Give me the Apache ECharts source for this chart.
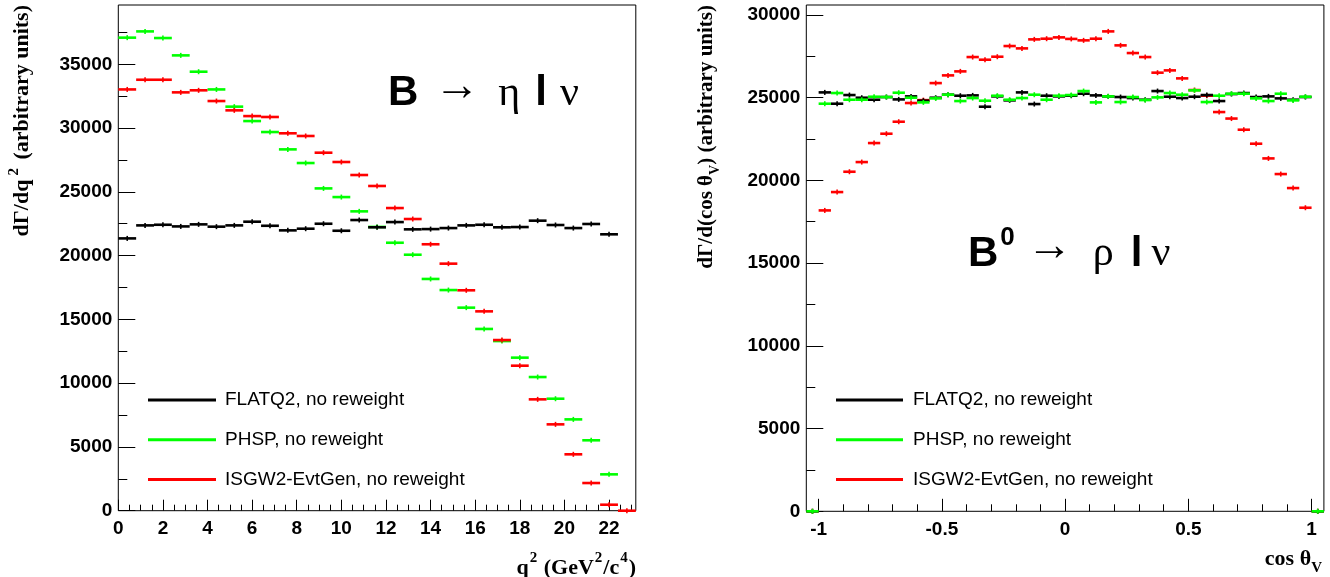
<!DOCTYPE html>
<html>
<head>
<meta charset="utf-8">
<script src="https://cdn.jsdelivr.net/npm/echarts@6/dist/echarts.min.js"></script>
<style>
html,body{margin:0;padding:0;background:#fff;}
#chart{width:1330px;height:577px;}
</style>
</head>
<body>
<div id="chart"></div>
<script>
// ---------------- Left panel: B -> eta l nu, dGamma/dq^2 ----------------
// 29 bins of 0.8 GeV^2/c^4 starting at q^2 = 0
const qBinStart = 0;
const qBinWidth = 0.8;
const qFlat  = [21350, 22370, 22420, 22290, 22450, 22270, 22370, 22660, 22340, 21980,
                22110, 22500, 21950, 22790, 22220, 22630, 22060, 22080, 22160, 22370,
                22420, 22220, 22240, 22740, 22400, 22160, 22480, 21670, null];
const qPhsp  = [37090, 37580, 37060, 35700, 34420, 33030, 31680, 30550, 29690, 28330,
                27260, 25270, 24590, 23470, 22250, 21010, 20070, 18170, 17300, 15920,
                14250, 13300, 12000, 10480, 8780, 7160, 5520, 2850, null];
const qIsgw2 = [33030, 33790, 33790, 32800, 32960, 32120, 31390, 30940, 30870, 29590,
                29380, 28070, 27340, 26320, 25460, 23730, 22870, 20890, 19370, 17280,
                15630, 13380, 11370, 8730, 6770, 4420, 2170, 470, 0];
const qTicks      = [0, 2, 4, 6, 8, 10, 12, 14, 16, 18, 20, 22];
const qMinorTicks = [0.5, 1, 1.5, 2.5, 3, 3.5, 4.5, 5, 5.5, 6.5, 7, 7.5, 8.5, 9, 9.5,
                     10.5, 11, 11.5, 12.5, 13, 13.5, 14.5, 15, 15.5, 16.5, 17, 17.5,
                     18.5, 19, 19.5, 20.5, 21, 21.5, 22.5, 23];
const yLeftTicks      = [0, 5000, 10000, 15000, 20000, 25000, 30000, 35000];
const yLeftMinorTicks = [2500, 7500, 12500, 17500, 22500, 27500, 32500, 37500];

// ---------------- Right panel: B0 -> rho l nu, dGamma/d(cos theta_V) ----------------
// 42 bins of 0.05 starting at cos theta_V = -1.05 (first and last bins are empty)
const cBinStart = -1.05;
const cBinWidth = 0.05;
const cFlat  = [0,
                25318, 24634, 25158, 24996, 24875, 25037, 24895, 25077, 24815, 24996,
                25178, 25117, 25137, 24452, 25077, 24835, 25318, 24613, 25117, 25077,
                25117, 25238, 25137, 25077, 25037, 24976, 24875, 25399, 25057, 24976,
                25057, 25158, 24795, 25218, 25279, 25037, 25077, 24956, 24875, 25037,
                0];
const cPhsp  = [0,
                24634, 25279, 24875, 24875, 25057, 25037, 25298, 24996, 24714, 24956,
                25178, 24795, 24976, 24815, 25117, 24875, 24976, 25178, 24875, 25117,
                25158, 25399, 24714, 25077, 24735, 25037, 24855, 25016, 25279, 25178,
                25440, 24735, 25117, 25238, 25238, 24956, 24795, 25238, 24835, 25057,
                0];
const cIsgw2 = [0,
                18185, 19294, 20523, 21107, 22256, 22820, 23545, 24676, 24850, 25880,
                26346, 26588, 27454, 27293, 27474, 28120, 27978, 28522, 28563, 28643,
                28550, 28463, 28563, 29005, 28160, 27696, 27454, 26510, 26648, 26165,
                25460, 25117, 24130, 23737, 23062, 22216, 21328, 20382, 19536, 18347,
                0];
const cTicks      = [-1, -0.5, 0, 0.5, 1];
const cMinorTicks = [-0.9, -0.8, -0.7, -0.6, -0.4, -0.3, -0.2, -0.1,
                     0.1, 0.2, 0.3, 0.4, 0.6, 0.7, 0.8, 0.9];
const yRightTicks      = [0, 5000, 10000, 15000, 20000, 25000, 30000];
const yRightMinorTicks = [2500, 7500, 12500, 17500, 22500, 27500];

const seriesNames = ['FLATQ2, no reweight', 'PHSP, no reweight', 'ISGW2-EvtGen, no reweight'];
const colFlat = '#000000', colPhsp = '#00ff00', colIsgw2 = '#ff0000';

// ------------------------------------------------------------------
function histData(values, start, width) {
  const out = [];
  values.forEach(function (v, i) {
    if (v === null) return;
    out.push([start + i * width, start + (i + 1) * width, v]);
  });
  return out;
}

function renderBin(params, api) {
  const a = api.coord([api.value(0), api.value(2)]);
  const b = api.coord([api.value(1), api.value(2)]);
  const color = api.visual('color');
  const mx = (a[0] + b[0]) / 2;
  return {
    type: 'group',
    children: [
      { type: 'line', shape: { x1: a[0], y1: a[1], x2: b[0], y2: b[1] },
        style: { stroke: color, lineWidth: 2.6 } },
      { type: 'line', shape: { x1: mx, y1: a[1] - 2.5, x2: mx, y2: a[1] + 2.5 },
        style: { stroke: color, lineWidth: 1.6 } }
    ]
  };
}

function histSeries(name, values, start, width, color, gi) {
  return {
    name: name,
    type: 'custom',
    xAxisIndex: gi * 2,
    yAxisIndex: gi * 2,
    clip: false,
    renderItem: renderBin,
    itemStyle: { color: color },
    encode: { x: [0, 1], y: 2 },
    data: histData(values, start, width)
  };
}

const tickFont = { fontFamily: 'Liberation Sans', fontWeight: 'bold', fontSize: 19, color: '#000' };
function plainNum(v) { return String(v); }

function xAxes(gi, min, max, major, minor, majLen, minLen) {
  return [
    { gridIndex: gi, type: 'value', position: 'bottom', min: min, max: max,
      axisLine: { show: false, onZero: false }, splitLine: { show: false },
      axisTick: { inside: true, length: majLen, customValues: major, lineStyle: { color: '#000', width: 1 } },
      axisLabel: Object.assign({ customValues: major, margin: 9, formatter: plainNum }, tickFont) },
    { gridIndex: gi, type: 'value', position: 'bottom', min: min, max: max,
      axisLine: { show: false, onZero: false }, splitLine: { show: false },
      axisTick: { inside: true, length: minLen, customValues: minor, lineStyle: { color: '#000', width: 1 } },
      axisLabel: { show: false, customValues: minor } }
  ];
}
function yAxes(gi, max, major, minor) {
  return [
    { gridIndex: gi, type: 'value', position: 'left', min: 0, max: max,
      axisLine: { show: false, onZero: false }, splitLine: { show: false },
      axisTick: { inside: true, length: 17, customValues: major, lineStyle: { color: '#000', width: 1 } },
      axisLabel: Object.assign({ customValues: major, margin: 6, formatter: plainNum }, tickFont) },
    { gridIndex: gi, type: 'value', position: 'left', min: 0, max: max,
      axisLine: { show: false, onZero: false }, splitLine: { show: false },
      axisTick: { inside: true, length: 9, customValues: minor, lineStyle: { color: '#000', width: 1 } },
      axisLabel: { show: false, customValues: minor } }
  ];
}

const serifBold = { fontFamily: 'Liberation Serif', fontWeight: 'bold', fill: '#000' };

function legendFor(left, iconW, pad) {
  return {
    left: left, top: 390, orient: 'vertical', padding: 0,
    icon: 'rect', itemWidth: iconW, itemHeight: 3, itemGap: 19.7,
    selectedMode: false,
    data: seriesNames,
    textStyle: { fontFamily: 'Liberation Sans', fontSize: 19, color: '#000', lineHeight: 20, padding: [0, 0, 0, pad] }
  };
}

const arrowStyle = { fontFamily: 'Liberation Serif', fontSize: 46, lineHeight: 36, verticalAlign: 'top', fill: '#000' };
const greekStyle = { fontFamily: 'Liberation Serif', fontSize: 42, lineHeight: 50, verticalAlign: 'bottom', fill: '#000' };
const boldBig    = { fontFamily: 'Liberation Sans', fontWeight: 'bold', fontSize: 42, lineHeight: 50, verticalAlign: 'bottom', fill: '#000' };

const option = {
  animation: false,
  backgroundColor: '#fff',
  textStyle: { fontFamily: 'Liberation Sans' },
  grid: [
    { left: 118.3, top: 5, width: 517.5, height: 505.7, show: true, borderColor: '#000', borderWidth: 1,
      backgroundColor: 'transparent', outerBoundsMode: 'none', containLabel: false },
    { left: 806.3, top: 5, width: 517.6, height: 506.3, show: true, borderColor: '#000', borderWidth: 1,
      backgroundColor: 'transparent', outerBoundsMode: 'none', containLabel: false }
  ],
  xAxis: [].concat(
    xAxes(0, 0, 23.2, qTicks, qMinorTicks, 11, 6),
    xAxes(1, -1.05, 1.05, cTicks, cMinorTicks, 12.5, 7)
  ),
  yAxis: [].concat(
    yAxes(0, 39650, yLeftTicks, yLeftMinorTicks),
    yAxes(1, 30600, yRightTicks, yRightMinorTicks)
  ),
  legend: [legendFor(148, 68, 4), legendFor(836, 67, 5)],
  series: [
    histSeries(seriesNames[1], qPhsp, qBinStart, qBinWidth, colPhsp, 0),
    histSeries(seriesNames[2], qIsgw2, qBinStart, qBinWidth, colIsgw2, 0),
    histSeries(seriesNames[0], qFlat, qBinStart, qBinWidth, colFlat, 0),
    histSeries(seriesNames[2], cIsgw2, cBinStart, cBinWidth, colIsgw2, 1),
    histSeries(seriesNames[0], cFlat, cBinStart, cBinWidth, colFlat, 1),
    histSeries(seriesNames[1], cPhsp, cBinStart, cBinWidth, colPhsp, 1)
  ],
  graphic: [
    // y-axis titles
    { type: 'text', x: 20, y: 5, rotation: Math.PI / 2, silent: true,
      style: { text: '{m|dΓ/dq}{s|2}{m| (arbitrary units)}', align: 'right', verticalAlign: 'middle',
        rich: { m: Object.assign({ fontSize: 22, lineHeight: 27, verticalAlign: 'bottom' }, serifBold),
                s: Object.assign({ fontSize: 15, lineHeight: 15, verticalAlign: 'top', padding: [0, 3, 0, 4] }, serifBold) } } },
    { type: 'text', x: 709, y: 5, rotation: Math.PI / 2, silent: true,
      style: { text: '{m|dΓ/d(cos θ}{b|V}{m|) (arbitrary units)}', align: 'right', verticalAlign: 'middle',
        rich: { m: Object.assign({ fontSize: 21, lineHeight: 26, verticalAlign: 'top' }, serifBold),
                b: Object.assign({ fontSize: 14, lineHeight: 14, verticalAlign: 'bottom' }, serifBold) } } },
    // x-axis titles
    { type: 'text', x: 636, y: 565, silent: true,
      style: { text: '{m|q}{s|2}{m| (GeV}{s|2}{m|/c}{s|4}{m|)}', align: 'right', verticalAlign: 'middle',
        rich: { m: Object.assign({ fontSize: 22, lineHeight: 29, verticalAlign: 'bottom' }, serifBold),
                s: Object.assign({ fontSize: 15, lineHeight: 15, verticalAlign: 'top', padding: [0, 1, 0, 1] }, serifBold) } } },
    { type: 'text', x: 1322, y: 562, silent: true,
      style: { text: '{m|cos θ}{b|V}', align: 'right', verticalAlign: 'middle',
        rich: { m: Object.assign({ fontSize: 22, lineHeight: 28, verticalAlign: 'top' }, serifBold),
                b: Object.assign({ fontSize: 15, lineHeight: 15, verticalAlign: 'bottom' }, serifBold) } } },
    // decay labels
    { type: 'text', x: 388, y: 64.7, silent: true,
      style: { text: '{b|B}{a|→}{g|η}{l|l}{n|ν}', align: 'left', verticalAlign: 'top',
        rich: {
          b: boldBig,
          a: Object.assign({ padding: [0, 0, 0, 16] }, arrowStyle),
          g: Object.assign({ padding: [0, 0, 0, 18] }, greekStyle),
          l: Object.assign({ padding: [0, 0, 0, 15] }, boldBig),
          n: Object.assign({ padding: [0, 0, 0, 13] }, greekStyle)
        } } },
    { type: 'text', x: 968, y: 225, silent: true,
      style: { text: '{b|B}{z|0}{a|→}{g|ρ}{l|l}{n|ν}', align: 'left', verticalAlign: 'top',
        rich: {
          b: boldBig,
          z: { fontFamily: 'Liberation Sans', fontWeight: 'bold', fontSize: 26, lineHeight: 26, verticalAlign: 'top', fill: '#000', padding: [0, 0, 0, 2] },
          a: Object.assign({ padding: [0, 0, 0, 12] }, arrowStyle),
          g: Object.assign({ padding: [0, 0, 0, 20] }, greekStyle),
          l: Object.assign({ padding: [0, 0, 0, 17] }, boldBig),
          n: Object.assign({ padding: [0, 0, 0, 9] }, greekStyle)
        } } }
  ]
};

const chart = echarts.init(document.getElementById('chart'), null, { renderer: 'canvas' });
chart.setOption(option);
</script>
</body>
</html>
